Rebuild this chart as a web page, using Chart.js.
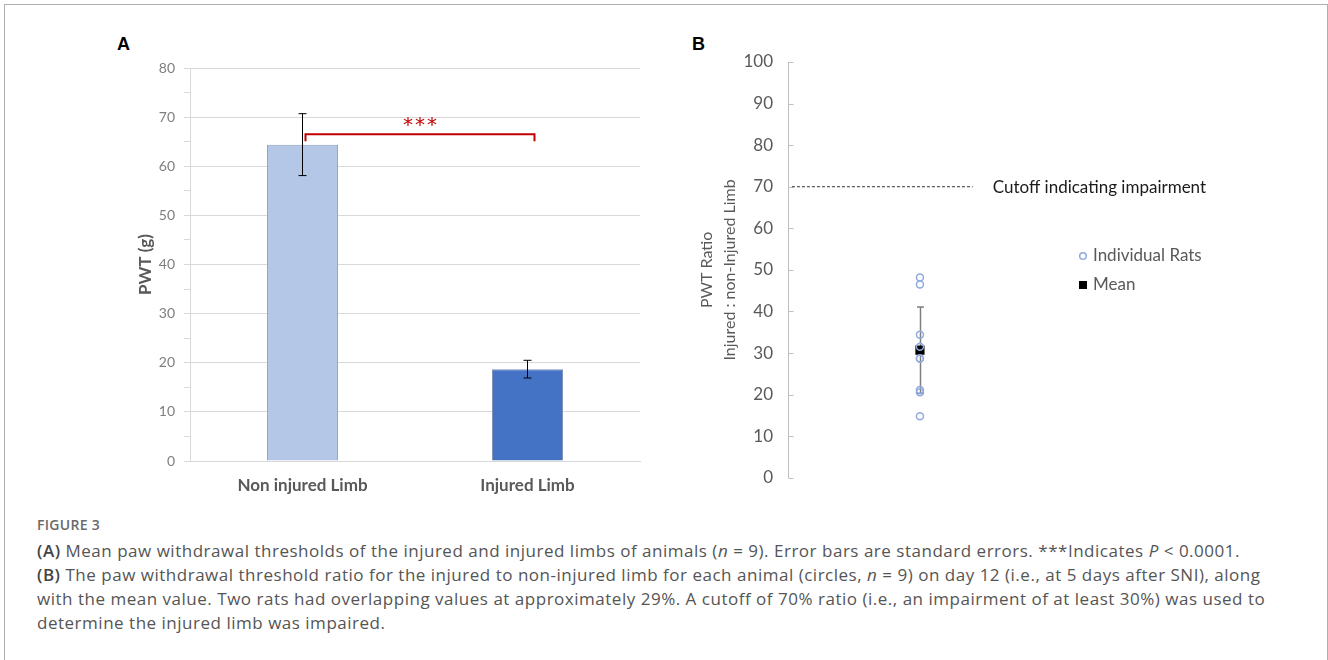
<!DOCTYPE html>
<html>
<head>
<meta charset="utf-8">
<script src="https://cdn.jsdelivr.net/npm/chart.js@4.4.1/dist/chart.umd.min.js"></script>
<style>
  html, body { margin:0; padding:0; background:#fff; width:1328px; height:660px; overflow:hidden; }
  #frame { position:absolute; left:4px; top:4px; width:1324px; height:700px; border:1px solid #b0b0b0; box-sizing:border-box; }
  .panel { position:absolute; font-family:"Liberation Sans", Arial, sans-serif; font-weight:bold; font-size:18px; color:#000; line-height:18px; }
  #wrapA { position:absolute; left:100px; top:30px; width:560px; height:480px; }
  #wrapB { position:absolute; left:680px; top:30px; width:600px; height:473px; }
  #fig { position:absolute; left:37px; top:516px; font-family:"Open Sans", sans-serif; font-size:14px; letter-spacing:0.3px; color:#6a6a6a; line-height:18px; font-weight:600; }
  .cap { position:absolute; left:37px; font-family:"Open Sans", sans-serif; font-size:17px; color:#555; white-space:nowrap; line-height:24px; }
  .cap b { font-weight:600; color:#444; }
</style>
</head>
<body>
<div id="frame"></div>
<div class="panel" style="left:117px; top:35px;">A</div>
<div class="panel" style="left:692px; top:35px;">B</div>
<div id="wrapA"><canvas id="chartA" width="560" height="480"></canvas></div>
<div id="wrapB"><canvas id="chartB" width="600" height="473"></canvas></div>
<div id="fig">FIGURE 3</div>
<div class="cap" id="cap1" style="top:539px;"><b>(A)</b> Mean paw withdrawal thresholds of the injured and injured limbs of animals (<i>n</i> = 9). Error bars are standard errors. ***Indicates <i>P</i> &lt; 0.0001.</div>
<div class="cap" style="top:563px;"><b>(B)</b> The paw withdrawal threshold ratio for the injured to non-injured limb for each animal (circles, <i>n</i> = 9) on day 12 (i.e., at 5 days after SNI), along</div>
<div class="cap" style="top:587px;">with the mean value. Two rats had overlapping values at approximately 29%. A cutoff of 70% ratio (i.e., an impairment of at least 30%) was used to</div>
<div class="cap" style="top:611px;">determine the injured limb was impaired.</div>
<script>
// ---------- Panel A data ----------
const limbCategories = ['Non injured Limb', 'Injured Limb'];
const pwtMeans = [64.4, 18.7];
const pwtErrors = [6.3, 1.8];
const barColors = ['#B4C7E7', '#4472C4'];
const pwtTicks = [0, 10, 20, 30, 40, 50, 60, 70, 80];
const sigLevel = 66.5;     // bracket height (g)
const sigDrop = 1.4;       // bracket leg length (g)
const sigLabel = '***';

// ---------- Panel B data ----------
const ratTickValues = [0, 10, 20, 30, 40, 50, 60, 70, 80, 90, 100];
const ratX = 1;
const ratRatios = [48.2, 46.5, 34.4, 31.5, 28.7, 28.7, 21.1, 20.6, 14.8];
const ratMean = [30.7];
const ratSD = [10.4];
const cutoffValue = 70;
const cutoffXs = [0.03, 1.4];
const cutoffLabel = 'Cutoff indicating impairment';
const legendLabels = ['Individual Rats', 'Mean'];

const LATO = 'Lato, "Open Sans", sans-serif';

function fitCaption() {
  const c1 = document.getElementById('cap1');
  const target = 1203;
  const n = c1.textContent.length;
  const w = c1.getBoundingClientRect().width;
  const ls = (target - w) / n;
  document.querySelectorAll('.cap').forEach(el => { el.style.letterSpacing = ls.toFixed(3) + 'px'; });
}

function drawCharts() {
// ---------- Chart A ----------
const annotA = {
  id: 'annotA',
  afterDatasetsDraw(chart) {
    const ctx = chart.ctx, y = chart.scales.y;
    const meta = chart.getDatasetMeta(0);
    ctx.save();
    ctx.strokeStyle = '#000'; ctx.lineWidth = 1;
    meta.data.forEach((bar, i) => {
      const x = Math.round(bar.x) - 0.5;
      const yt = y.getPixelForValue(pwtMeans[i] + pwtErrors[i]);
      const yb = y.getPixelForValue(pwtMeans[i] - pwtErrors[i]);
      ctx.beginPath();
      ctx.moveTo(x, yt); ctx.lineTo(x, yb);
      ctx.moveTo(x - 4, yt); ctx.lineTo(x + 4, yt);
      ctx.moveTo(x - 4, yb); ctx.lineTo(x + 4, yb);
      ctx.stroke();
    });
    // significance bracket
    const x1 = meta.data[0].x + 3, x2 = meta.data[1].x + 7;
    const ys = y.getPixelForValue(sigLevel), yd = y.getPixelForValue(sigLevel - sigDrop);
    ctx.strokeStyle = '#C00000'; ctx.lineWidth = 2;
    ctx.beginPath();
    ctx.moveTo(x1, yd); ctx.lineTo(x1, ys); ctx.lineTo(x2, ys); ctx.lineTo(x2, yd);
    ctx.stroke();
    ctx.fillStyle = '#C00000';
    ctx.font = '20px "DejaVu Sans", sans-serif';
    ctx.textAlign = 'center'; ctx.textBaseline = 'alphabetic';
    const cx = (x1 + x2) / 2, cy = ys - 3;
    const sw = 12;
    for (let k = 0; k < sigLabel.length; k++) ctx.fillText(sigLabel[k], cx + (k - (sigLabel.length - 1) / 2) * sw, cy);
    ctx.restore();
  }
};

new Chart(document.getElementById('chartA'), {
  type: 'bar',
  data: {
    labels: limbCategories,
    datasets: [{
      data: pwtMeans,
      backgroundColor: barColors,
      borderColor: ['#8FA0BE', '#7F8FAE'],
      borderWidth: 1,
      categoryPercentage: 1,
      barPercentage: 0.316
    }]
  },
  options: {
    responsive: false, animation: false,
    layout: { padding: { top: 38, right: 20, left: 0, bottom: 0 } },
    plugins: { legend: { display: false }, tooltip: { enabled: false } },
    scales: {
      x: {
        grid: { display: false },
        border: { color: '#d9d9d9' },
        ticks: { font: { family: LATO, size: 17, weight: 'bold' }, color: '#595959', padding: 6 },
        afterFit(s) { s.height = 49; }
      },
      y: {
        min: 0, max: 80,
        afterBuildTicks(s) {
          const t = [];
          pwtTicks.forEach((v, i) => { t.push({ value: v }); if (i < pwtTicks.length - 1) t.push({ value: (v + pwtTicks[i + 1]) / 2 }); });
          s.ticks = t;
        },
        ticks: {
          font: { family: LATO, size: 14 }, color: '#7f7f7f', padding: 9,
          callback: (v) => pwtTicks.includes(v) ? String(v) : ''
        },
        grid: {
          color: (c) => (c.tick && pwtTicks.includes(c.tick.value)) ? '#d9d9d9' : 'rgba(0,0,0,0)',
          tickColor: '#d9d9d9', tickLength: 6
        },
        border: { color: '#d9d9d9' },
        title: { display: true, text: 'PWT (g)', font: { family: LATO, size: 17, weight: 'bold' }, color: '#595959', padding: { top: 35, bottom: 0 } },
        afterFit(s) { s.width = 90; }
      }
    }
  },
  plugins: [annotA]
});

// ---------- Chart B ----------
const annotB = {
  id: 'annotB',
  beforeDatasetsDraw(chart) {
    const ctx = chart.ctx, y = chart.scales.y, x = chart.scales.x;
    ctx.save();
    ctx.strokeStyle = '#bfbfbf'; ctx.lineWidth = 1;
    const ax = Math.round(chart.chartArea.left) + 0.5;
    y.ticks.forEach(t => {
      const py = Math.round(y.getPixelForValue(t.value)) + 0.5;
      ctx.beginPath(); ctx.moveTo(ax, py); ctx.lineTo(ax + 5, py); ctx.stroke();
    });
    const px = Math.round(x.getPixelForValue(ratX)) + 0.5;
    const yt = y.getPixelForValue(ratMean[0] + ratSD[0]);
    const yb = y.getPixelForValue(ratMean[0] - ratSD[0]);
    ctx.strokeStyle = '#7f7f7f'; ctx.lineWidth = 1.5;
    ctx.beginPath();
    ctx.moveTo(px, yt); ctx.lineTo(px, yb);
    ctx.moveTo(px - 3.5, yt); ctx.lineTo(px + 3.5, yt);
    ctx.moveTo(px - 3.5, yb); ctx.lineTo(px + 3.5, yb);
    ctx.stroke();
    ctx.restore();
  },
  afterDatasetsDraw(chart) {
    const ctx = chart.ctx, y = chart.scales.y, x = chart.scales.x;
    ctx.save();
    ctx.font = '17px ' + LATO;
    ctx.textBaseline = 'middle'; ctx.textAlign = 'left';
    ctx.fillStyle = '#1a1a1a';
    ctx.fillText(cutoffLabel, x.getPixelForValue(cutoffXs[1]) + 20, y.getPixelForValue(cutoffValue) + 1);
    const lx = 403, ly1 = 226, ly2 = 255;
    ctx.strokeStyle = '#8FAADC'; ctx.lineWidth = 1.5;
    ctx.beginPath(); ctx.arc(lx, ly1, 3.3, 0, Math.PI * 2); ctx.stroke();
    ctx.fillStyle = '#000';
    ctx.fillRect(lx - 4, ly2 - 4, 8, 8);
    ctx.fillStyle = '#595959';
    ctx.fillText(legendLabels[0], lx + 10, ly1);
    ctx.fillText(legendLabels[1], lx + 10, ly2);
    ctx.restore();
  }
};

new Chart(document.getElementById('chartB'), {
  type: 'scatter',
  data: {
    datasets: [
      {
        type: 'line',
        data: cutoffXs.map(v => ({ x: v, y: cutoffValue })),
        borderColor: '#333', borderWidth: 1, borderDash: [3, 2],
        pointRadius: 0, fill: false
      },
      {
        data: ratRatios.map(v => ({ x: ratX, y: v })),
        pointStyle: 'circle', pointRadius: 3.5,
        borderColor: '#8FAADC', borderWidth: 1.5, backgroundColor: 'rgba(0,0,0,0)'
      },
      {
        data: ratMean.map(v => ({ x: ratX, y: v })),
        pointStyle: 'rect', pointRadius: 6.5,
        borderWidth: 0, backgroundColor: '#000', borderColor: '#000'
      }
    ]
  },
  options: {
    responsive: false, animation: false,
    layout: { padding: { top: 32, right: 50, left: 0, bottom: 18 } },
    plugins: { legend: { display: false }, tooltip: { enabled: false } },
    scales: {
      x: { type: 'linear', min: 0, max: 3.35, display: false },
      y: {
        min: 0, max: 100,
        afterBuildTicks(s) { s.ticks = ratTickValues.map(v => ({ value: v })); },
        ticks: { font: { family: LATO, size: 17 }, color: '#595959', padding: 15 },
        grid: { drawOnChartArea: false, drawTicks: false },
        border: { color: '#bfbfbf' },
        title: {
          display: true, text: ['PWT Ratio', 'Injured : non-Injured Limb'],
          font: { family: LATO, size: 16, lineHeight: 1.45 }, color: '#595959',
          padding: { top: 15, bottom: 0 }
        },
        afterFit(s) { s.width = 108; }
      }
    }
  },
  plugins: [annotB]
});
}

Promise.all([
  document.fonts.load('16px Lato'),
  document.fonts.load('bold 16px Lato'),
  document.fonts.load('17px "Open Sans"'),
  document.fonts.load('600 17px "Open Sans"'),
  document.fonts.load('italic 17px "Open Sans"')
]).catch(() => {}).then(() => { fitCaption(); drawCharts(); });
</script>
</body>
</html>
